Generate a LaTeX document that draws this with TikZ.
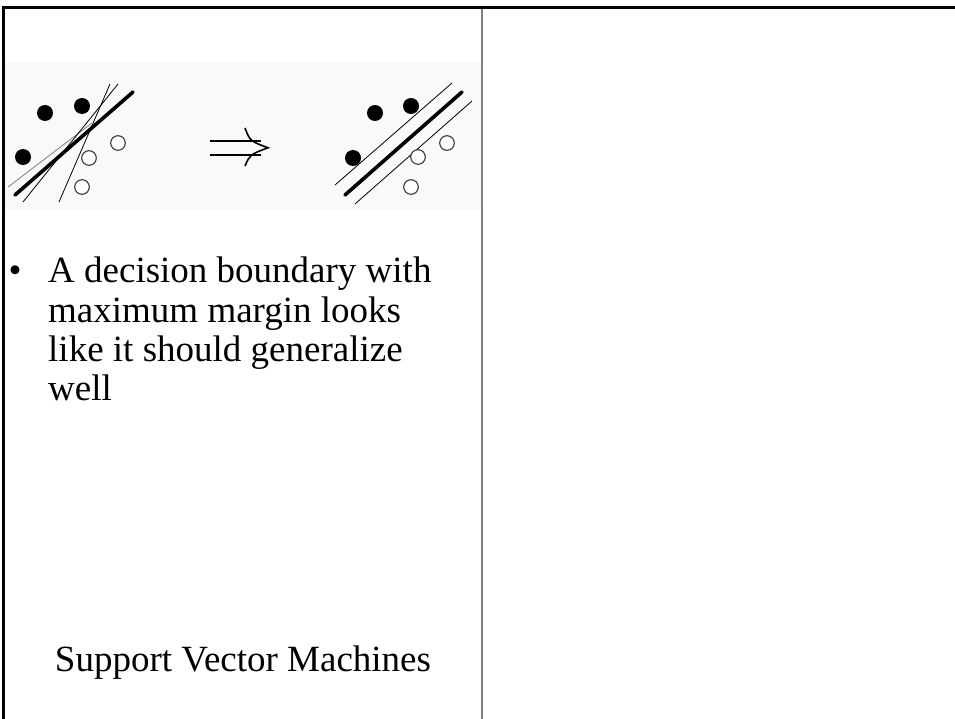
\documentclass[tikz,border=0pt]{standalone}
\usepackage{fontspec}
\setmainfont{Liberation Serif}
\definecolor{figbg}{RGB}{249,249,249}
\definecolor{rule}{RGB}{128,128,128}
\definecolor{ring}{RGB}{60,60,60}
\begin{document}
\begin{tikzpicture}[x=1pt,y=-1pt,
  body/.style={inner sep=0pt,anchor=base west,font=\fontsize{37}{39}\selectfont},
  plus/.style={fill=black,draw=none},
  minus/.style={draw=ring,line width=1.1pt,fill=white},
  sep/.style={line width=3.6pt,line cap=round},
  guide/.style={line width=0.8pt},
]
\useasboundingbox (0,0) rectangle (955,719);

% frame of the two-column layout
\draw[line width=3pt] (1.5,8) -- (955,8);
\draw[line width=3pt] (3,6.5) -- (3,719);
\draw[rule,line width=2pt] (482,9) -- (482,719);

% pictured example: any separating line vs. the widest-margin one
\fill[figbg] (4.5,62) rectangle (481,210);

% left panel: several separating lines
\draw[guide,draw=gray] (8,187) -- (92,123);
\draw[guide] (23,202) -- (118,84);
\draw[guide] (59,202) -- (110,84);
\draw[sep] (15,195) -- (133,92);
\fill[plus] (45,113) circle (8);
\fill[plus] (82,106) circle (8);
\fill[plus] (23,157) circle (8);
\draw[minus] (118,143) circle (7.3);
\draw[minus] (89,158) circle (7.3);
\draw[minus] (82,187) circle (7.3);

% implication arrow
\draw[line width=1.8pt] (210,140.7) -- (261,140.7);
\draw[line width=1.8pt] (210,155) -- (261,155);
\draw[line width=1.6pt] (245,128) .. controls (250,141) .. (268,147.8)
                                   .. controls (250,154.5) .. (245,166);

% right panel: maximum-margin boundary with its margins
\draw[guide] (335,185) -- (452,83);
\draw[guide] (355,204) -- (472,101);
\draw[sep] (345,195) -- (462,92);
\fill[plus] (375,113) circle (8);
\fill[plus] (411,106) circle (8);
\fill[plus] (353,158) circle (8);
\draw[minus] (447,143) circle (7.3);
\draw[minus] (418,157) circle (7.3);
\draw[minus] (411,187) circle (7.3);

% bullet text
\node[body] (dot) at (8.5,283) {•};
\node[body] (l1) at (48,283) {A decision boundary with};
\node[body] (l2) at (48,322) {maximum margin looks};
\node[body] (l3) at (48,361) {like it should generalize};
\node[body] (l4) at (48,400) {well};

% caption
\node[inner sep=0pt,anchor=base,font=\fontsize{37}{39}\selectfont] (title) at (243,671) {Support Vector Machines};
\end{tikzpicture}
\end{document}
